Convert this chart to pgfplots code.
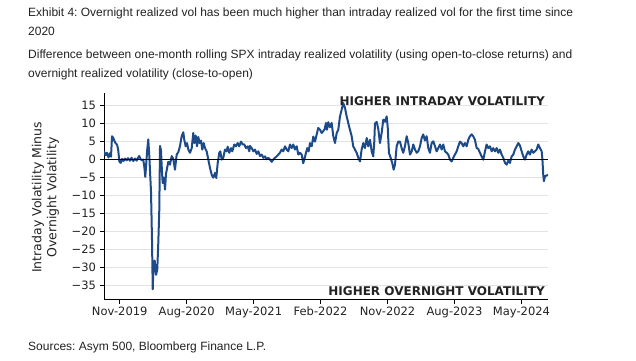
\documentclass[border=0pt]{standalone}
\usepackage{fontspec}
\setmainfont{Liberation Sans}
\newfontfamily\djv{DejaVu Sans}
\usepackage{pgfplots}
\pgfplotsset{compat=1.18}
\definecolor{txt}{HTML}{222222}
\definecolor{ln}{HTML}{1D4B8A}
\definecolor{grd}{HTML}{E2E2E2}
\frenchspacing
\begin{document}
\begin{tikzpicture}[x=1bp,y=1bp]
\path[use as bounding box] (0,0) rectangle (636,360);
\begin{scope}[every node/.style={anchor=base west, inner sep=0pt, text=txt, font=\fontsize{12bp}{14bp}\selectfont}]
\node at (28,343.3) {Exhibit 4: Overnight realized vol has been much higher than intraday realized vol for the first time since};
\node at (28,325) {2020};
\node at (28,301.7) {Difference between one-month rolling SPX intraday realized volatility (using open-to-close returns) and};
\node at (28,282.7) {overnight realized volatility (close-to-open)};
\node at (28,9.3) {Sources: Asym 500, Bloomberg Finance L.P.};
\end{scope}
\begin{axis}[
  at={(104bp,61bp)}, anchor=south west,
  scale only axis, width=444bp, height=206bp,
  xmin=7.89, xmax=67.57, ymin=-38.7, ymax=18.5,
  axis lines=left,
  axis line style={-, black, line width=1bp},
  xtick={10,19,28,37,46,55,64},
  xticklabels={Nov-2019,Aug-2020,May-2021,Feb-2022,Nov-2022,Aug-2023,May-2024},
  ytick={-35,-30,-25,-20,-15,-10,-5,0,5,10,15},
  yticklabels={−35,−30,−25,−20,−15,−10,−5,0,5,10,15},
  tick align=outside, major tick length=4.5bp,
  tick style={black, line width=1bp},
  ymajorgrids, grid style={grd, line width=0.9bp},
  ticklabel style={font=\djv\fontsize{11.5bp}{13bp}\selectfont, text=txt},
  ylabel={Intraday Volatility Minus\\Overnight Volatility},
  ylabel style={at={(axis description cs:-0.1318,0.493)}, anchor=center, align=center, font=\djv\fontsize{12.5bp}{15bp}\selectfont, text=txt},
]
\addplot[ln, line width=2bp, line join=round] coordinates {
(7.89,2.3) (8.09,1.2) (8.29,1.9) (8.49,0.6) (8.70,1.8) (8.83,0.8) (8.97,6.5) (9.14,6.0) (9.37,4.8) (9.57,4.3) (9.68,3.9) (9.81,2.5) (9.95,-0.5) (10.13,-0.9) (10.31,0.2) (10.51,-0.4) (10.71,0.3) (10.94,-0.2) (11.12,0.4) (11.38,-0.3) (11.59,0.5) (11.83,-0.4) (12.06,0.3) (12.28,-0.3) (12.46,0.5) (12.63,1.0) (12.80,0.2) (12.96,-0.2) (13.17,0.0) (13.31,-2) (13.44,-4.8) (13.57,-1) (13.71,3) (13.84,5.6) (13.98,1) (14.07,-3) (14.21,-9) (14.34,-22) (14.44,-36) (14.52,-31) (14.70,-28) (14.88,-32) (15.05,-30.5) (15.19,-23) (15.32,-14) (15.42,3.8) (15.55,2.5) (15.69,-3.7) (15.78,-6.5) (15.95,-5) (16.09,-8.3) (16.22,-4) (16.53,-0.6) (16.76,-1.4) (16.99,1.0) (17.20,0.2) (17.43,-2.8) (17.66,1.4) (17.88,2.1) (18.10,3.7)
(18.33,6.5) (18.55,7.6) (18.68,5.5) (18.87,3.7) (19.05,4.6) (19.22,2.8) (19.45,1.9) (19.68,3.2) (19.89,7.4) (20.03,4.6) (20.21,6.7) (20.39,3.7) (20.56,6.3) (20.75,4.6) (20.93,5.3) (21.10,2.8) (21.29,4.6) (21.46,3.25) (21.69,2.3) (21.91,0) (22.14,-2.3) (22.36,-4.2) (22.58,-5) (22.81,-3.7) (22.98,-5.1) (23.17,-1) (23.39,1.9) (23.52,2.3) (23.71,0) (23.92,0.5) (24.15,2.8) (24.38,2.3) (24.51,3.6) (24.73,1.9) (24.96,3.2) (25.13,2.3) (25.40,4.2) (25.63,3.7) (25.86,4.6) (26.07,3.7) (26.30,5) (26.53,4.2) (26.75,4.2) (26.97,3.2) (27.20,3.7) (27.42,2.3) (27.51,3.8) (27.74,3.2) (27.96,2.3) (28.18,2.8)
(28.41,1.6) (28.63,2.3) (28.86,1.0) (29.09,1.4) (29.30,0.5) (29.53,0.9) (29.76,0.1) (29.97,0.5) (30.20,0) (30.43,-0.6) (30.64,0) (30.87,0.5) (31.10,0.9) (31.32,1.4) (31.54,1.9) (31.77,2.8) (31.99,2.3) (32.22,3.7) (32.45,2.8) (32.66,2.3) (32.89,4.2) (33.12,3.2) (33.33,4.2) (33.56,2.8) (33.79,3.7) (34.01,1.4) (34.23,1.9) (34.46,1.4) (34.67,-1) (34.81,0) (35.04,1.9) (35.21,3.2) (35.40,2.3) (35.58,4.6) (35.81,3.7) (36.02,6.4) (36.25,5) (36.48,7) (36.69,8.8) (36.92,8.3) (37.15,7.4) (37.36,7.9) (37.55,8.5) (37.73,10.2) (37.86,8.3) (38.04,10.4) (38.26,9) (38.49,10.2)
(38.71,6.5) (38.94,4.6) (39.17,7.4) (39.38,8.3) (39.61,12) (39.84,13.9) (40.05,15.7) (40.28,14.4) (40.51,12) (40.72,10.2) (40.95,8.3) (41.18,6.5) (41.39,3.7) (41.62,2.8) (41.85,1.9) (42.07,0.5) (42.30,-0.5) (42.52,2.8) (42.74,4.6) (42.97,3.2) (43.20,6) (43.41,3.7) (43.64,5.5) (43.87,2.3) (44.08,0.9) (44.22,5) (44.31,10) (44.54,10.5) (44.76,8.5) (44.98,4.6) (45.21,7.4) (45.43,11.1) (45.66,10.5) (45.88,12) (46.02,9.2) (46.19,1.9) (46.42,0.5) (46.64,-1) (46.82,-2.8) (47.00,-1.4) (47.23,3.7) (47.44,5) (47.67,5.0) (47.90,3.2) (48.11,1.9) (48.34,3.7)
(48.57,6.5) (48.79,4.6) (49.02,1.4) (49.25,2.3) (49.46,4.2) (49.69,2.8) (49.92,1.9) (50.13,2.3) (50.36,3.7) (50.59,6) (50.80,7) (51.03,5.3) (51.26,6.5) (51.48,3.2) (51.70,1.9) (51.93,4.6) (52.15,5.1) (52.38,3.7) (52.60,2.3) (52.82,3.2) (53.05,4.2) (53.28,2.8) (53.49,4.2) (53.72,2.3) (53.95,1.9) (54.17,1.4) (54.39,0) (54.62,-0.5) (54.84,0.5) (55.06,1.4) (55.29,2.3) (55.51,3.7) (55.74,5) (55.96,4.6) (56.18,3.7) (56.41,4.6) (56.64,3.7) (56.85,5.5) (57.08,6.5) (57.31,7) (57.52,6.5) (57.75,5.5) (57.98,3.2) (58.19,3.0) (58.42,1.9)
(58.65,0.9) (58.87,0) (59.10,2.3) (59.32,4.2) (59.54,3.2) (59.77,3.7) (60.00,2.3) (60.21,3.2) (60.44,2.3) (60.67,3.2) (60.89,1.9) (61.11,2.8) (61.34,1.4) (61.56,0.5) (61.79,-0.9) (62.01,-1.4) (62.23,-0.3) (62.46,-0.9) (62.68,0.9) (62.90,1.4) (63.13,2.8) (63.36,3.7) (63.57,4.6) (63.80,3.9) (64.03,2.3) (64.24,0.9) (64.47,0) (64.70,1.4) (64.91,2.3) (65.14,1.4) (65.37,2.8) (65.59,1.9) (65.82,2.3) (66.04,2.8) (66.26,4.2) (66.49,3.2) (66.72,2.3) (66.82,0) (66.93,-4.2) (67.02,-6) (67.16,-4.6) (67.39,-4.4) (67.56,-4.2)
};
\addplot[black, line width=1.4bp, forget plot] coordinates {(7.89,0) (67.57,0)};
\node[anchor=base east, inner sep=0pt, text=txt, font=\djv\bfseries\fontsize{12bp}{14bp}\selectfont] at (rel axis cs:0.993,0.937) {HIGHER INTRADAY VOLATILITY};
\node[anchor=base east, inner sep=0pt, text=txt, font=\djv\bfseries\fontsize{12bp}{14bp}\selectfont] at (rel axis cs:0.993,0.016) {HIGHER OVERNIGHT VOLATILITY};
\end{axis}
\end{tikzpicture}
\end{document}
